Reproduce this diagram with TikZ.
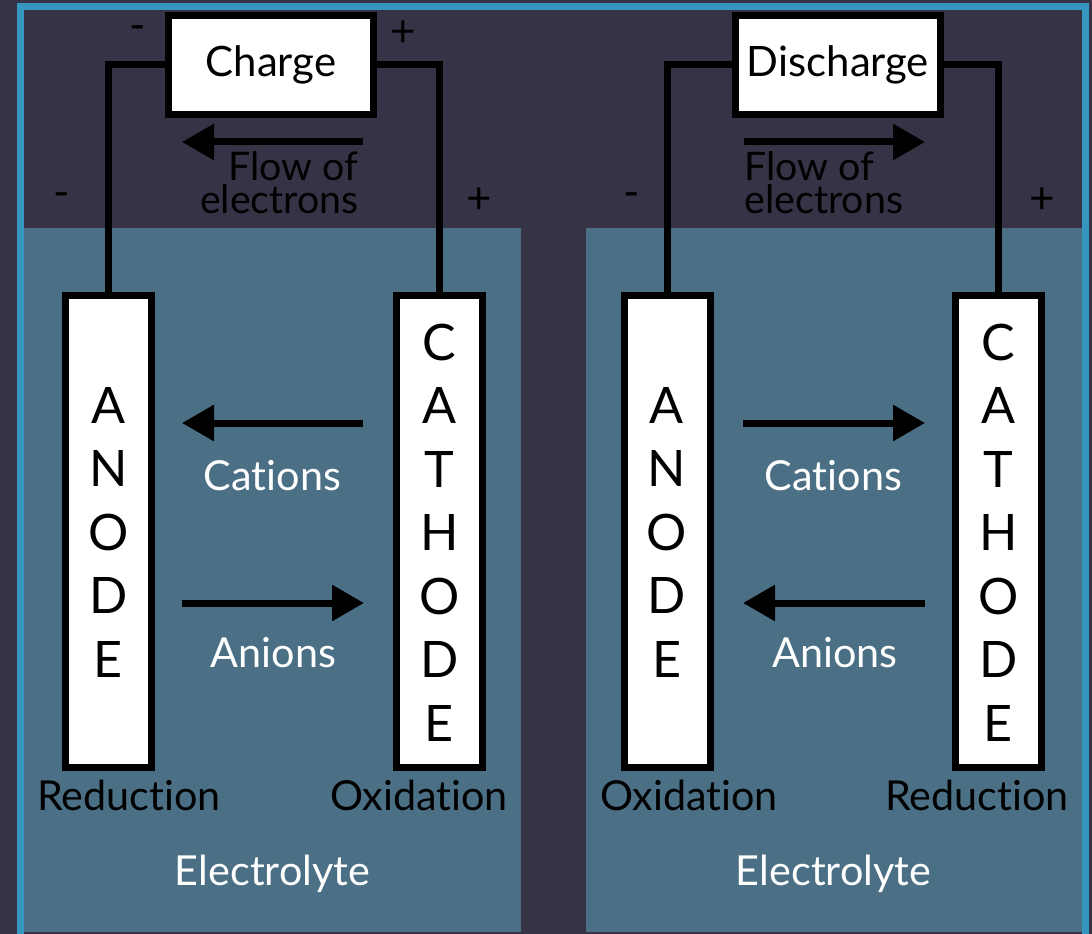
\documentclass[tikz,border=0pt]{standalone}
\usepackage{fontspec}
\setmainfont{Lato}[Ligatures=NoCommon]
\usetikzlibrary{arrows.meta}

\definecolor{bgdark}{RGB}{54,51,70}
\definecolor{frameblue}{RGB}{53,150,192}
\definecolor{electrolyte}{RGB}{75,112,133}

\tikzset{every picture/.style={line width=0.75pt}}
\tikzset{
electrode/.style={draw=black, fill=white, line width=5.25pt, inner sep=0pt,
  minimum width=64.5pt, minimum height=354pt},
electrode letter/.style={anchor=base, inner sep=0pt, font=\fontsize{37.7}{40}\selectfont},
source box/.style={draw=black, fill=white, line width=5.25pt, inner sep=0pt,
  minimum width=153.75pt, minimum height=74.25pt, font=\fontsize{31.4}{34}\selectfont},
wire/.style={draw=black, line width=5.25pt},
ion arrow/.style={draw=black, line width=5.25pt, -{Triangle[length=24pt,width=26pt]}},
sign/.style={inner sep=0pt, font=\fontsize{33}{35}\selectfont},
flow label/.style={inner sep=0pt, anchor=base, font=\fontsize{29.5}{31}\selectfont},
dark label/.style={inner sep=0pt, anchor=base, font=\fontsize{31}{33}\selectfont},
light label/.style={inner sep=0pt, anchor=base, text=white, font=\fontsize{31}{33}\selectfont}
}

\begin{document}
\begin{tikzpicture}[x=0.75pt,y=0.75pt,yscale=-1,xscale=1]
\useasboundingbox (0,0) rectangle (1092,934);

%Shape: Rectangle [background]
\fill [bgdark] (0,0) rectangle (1092,934);
%Shape: Rectangle [frame]
\draw [frameblue, line width=5.25pt] (20.5,6.5) rectangle (1085.5,938);
%Shape: Rectangle [electrolyte, charge]
\fill [electrolyte] (24,228) rectangle (520.7,931.5);
%Shape: Rectangle [electrolyte, discharge]
\fill [electrolyte] (586,228) rectangle (1082,931.5);

%Charge cell
\node [source box] (charge) at (271,65) {Charge};
\node [electrode] (anodeL) at (108.5,531.5) {};
\node [electrode] (cathodeL) at (439.5,531.5) {};
\draw [wire] (anodeL.north) |- (charge.west);
\draw [wire] (cathodeL.north) |- (charge.east);
\foreach \ch [count=\i] in {A,N,O,D,E}
  \node [electrode letter] (anL-\i) at (108.5,423+63.5*\i-63.5) {\ch};
\foreach \ch [count=\i] in {C,A,T,H,O,D,E}
  \node [electrode letter] (caL-\i) at (439.5,360+63.5*\i-63.5) {\ch};

%Discharge cell
\node [source box] (discharge) at (838,65) {Discharge};
\node [electrode] (anodeR) at (667,531.5) {};
\node [electrode] (cathodeR) at (998.5,531.5) {};
\draw [wire] (anodeR.north) |- (discharge.west);
\draw [wire] (cathodeR.north) |- (discharge.east);
\foreach \ch [count=\i] in {A,N,O,D,E}
  \node [electrode letter] (anR-\i) at (667,423+63.5*\i-63.5) {\ch};
\foreach \ch [count=\i] in {C,A,T,H,O,D,E}
  \node [electrode letter] (caR-\i) at (998.5,360+63.5*\i-63.5) {\ch};

%Arrows
\coordinate (flowL-s) at (363,142);
\coordinate (flowL-e) at (182,142);
\coordinate (catL-s) at (363,423);
\coordinate (catL-e) at (182,423);
\coordinate (aniL-s) at (182,603);
\coordinate (aniL-e) at (364,603);
\coordinate (flowR-s) at (743.5,142);
\coordinate (flowR-e) at (925,142);
\coordinate (catR-s) at (743,423);
\coordinate (catR-e) at (925,423);
\coordinate (aniR-s) at (925,603);
\coordinate (aniR-e) at (743,603);
\draw [ion arrow] (flowL-s) -- (flowL-e);
\draw [ion arrow] (catL-s) -- (catL-e);
\draw [ion arrow] (aniL-s) -- (aniL-e);
\draw [ion arrow] (flowR-s) -- (flowR-e);
\draw [ion arrow] (catR-s) -- (catR-e);
\draw [ion arrow] (aniR-s) -- (aniR-e);

% Text Node
\node [sign] (minusTop) at (138,33) {-};
\node [sign] (plusTop) at (403,34) {+};
\node [sign] (minusL) at (62,200) {-};
\node [sign] (plusL) at (479,201) {+};
\node [sign] (minusR) at (632,200) {-};
\node [sign] (plusR) at (1042,201) {+};
% Text Node
\node [flow label, anchor=base east] (flowL1) at (359,181) {Flow of};
\node [flow label, anchor=base east] (flowL2) at (359,214) {electrons};
\node [flow label, anchor=base west] (flowR1) at (744,181) {Flow of};
\node [flow label, anchor=base west] (flowR2) at (744,214) {electrons};
% Text Node
\node [light label] (cationsL) at (272.5,490) {Cations};
\node [light label] (anionsL) at (273.5,667) {Anions};
\node [light label] (cationsR) at (833.5,490) {Cations};
\node [light label] (anionsR) at (835,667) {Anions};
\node [light label] (electrolyteL) at (272.5,885) {Electrolyte};
\node [light label] (electrolyteR) at (833.5,885) {Electrolyte};
% Text Node
\node [dark label] (reductionL) at (129,810) {Reduction};
\node [dark label] (oxidationL) at (419,810) {Oxidation};
\node [dark label] (oxidationR) at (689,810) {Oxidation};
\node [dark label] (reductionR) at (977,810) {Reduction};

\end{tikzpicture}
\end{document}
